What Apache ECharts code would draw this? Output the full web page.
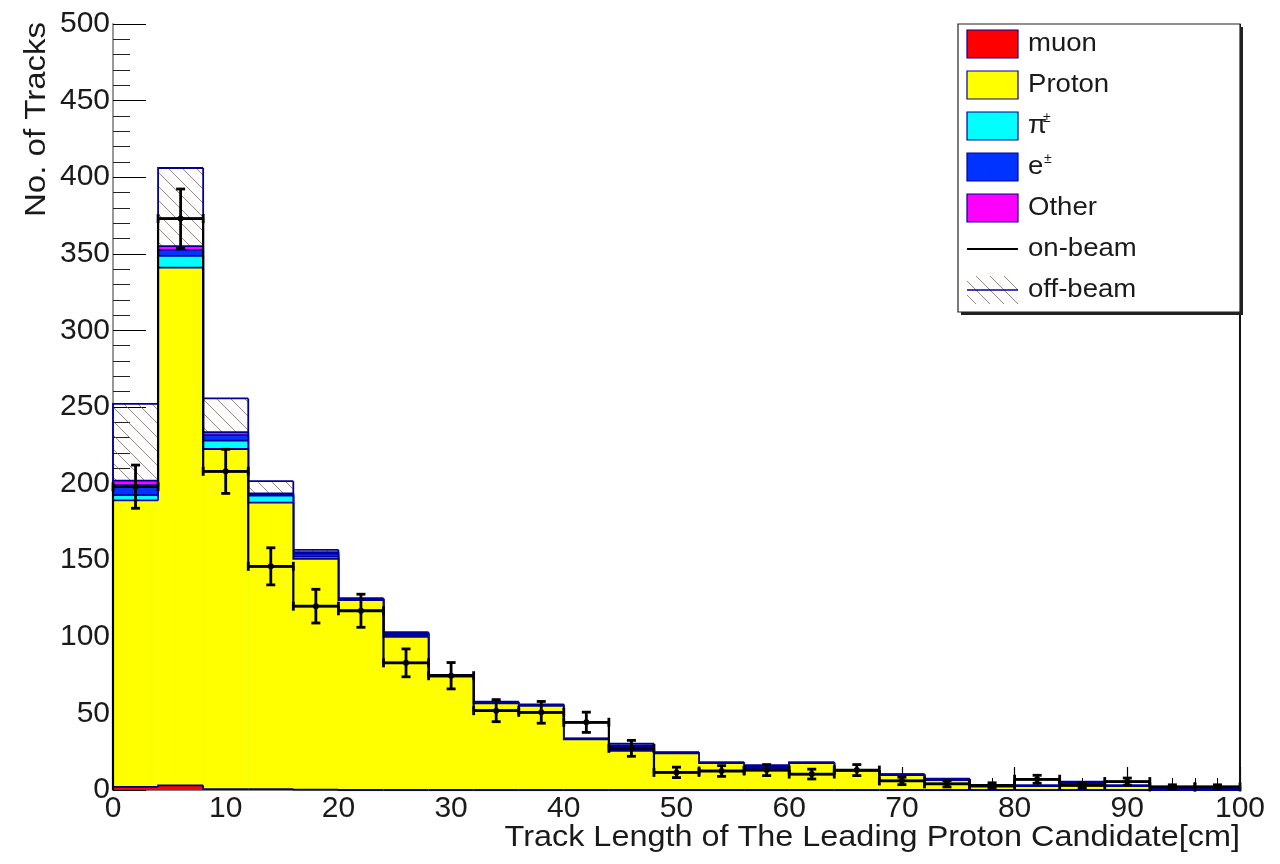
<!DOCTYPE html>
<html>
<head>
<meta charset="utf-8">
<script src="https://cdn.jsdelivr.net/npm/echarts@6/dist/echarts.min.js"></script>
<style>html,body{margin:0;padding:0;background:#fff}#chart{width:1280px;height:864px}</style>
</head>
<body>
<div id="chart"></div>
<script>
// ---- data ----
const binEdges = [0,4,8,12,16,20,24,28,32,36,40,44,48,52,56,60,64,68,72,76,80,84,88,92,96,100];
const muon     = [2, 3, 0.6, 0.6, 0.3, 0, 0, 0, 0, 0, 0, 0, 0, 0, 0, 0, 0, 0, 0, 0, 0, 0, 0, 0, 0];
const proton   = [187, 338, 222, 187, 150.5, 124, 100, 74, 56.5, 55, 33, 25.5, 24, 17.5, 14, 17.5, 12.5, 9.8, 6.5, 2.3, 2.5, 4.5, 2.5, 0.3, 0.3];
const pion     = [3.5, 7.6, 5.5, 4.5, 1.5, 0.3, 0.8, 0.25, 0.3, 0.2, 0.2, 1.2, 0.2, 0.1, 0.6, 0.1, 0.1, 0.1, 0.2, 0.1, 0.1, 0.3, 0.1, 0.1, 0.05];
const electron = [6.5, 3.9, 3.5, 1, 2, 0.3, 1, 0.25, 0.3, 0.2, 0.2, 1.5, 0.2, 0.2, 0.7, 0.2, 0.2, 0.2, 0.3, 0.2, 0.2, 0.3, 0.2, 0.1, 0.05];
const other    = [3, 2.5, 2, 0.5, 1, 0.2, 0.5, 0.25, 0.2, 0.2, 0.1, 0.8, 0.1, 0.1, 0.4, 0.1, 0.1, 0.1, 0.2, 0.1, 0.1, 0.2, 0.1, 0.05, 0.05];
const offBeam  = [50, 51, 22, 8, 1.5, 0.4, 0.7, 0.25, 0.3, 0.2, 0.2, 1.2, 0.1, 0.1, 0.6, 0.1, 0.1, 0.1, 0.2, 0.1, 0.1, 0.2, 0.1, 0.1, 0.05];
const onBeam    = [198, 373, 208, 146, 120, 117, 83, 74.6, 51.8, 50.7, 44.2, 27.2, 11.5, 12.4, 13, 10.4, 13, 5.9, 4, 3, 7, 3, 5.5, 2, 2];
const onBeamErr = [14.1, 19.3, 14.4, 12.1, 11, 10.8, 9.1, 8.6, 7.2, 7.1, 6.6, 5.2, 3.4, 3.5, 3.6, 3.2, 3.6, 2.4, 2, 1.7, 2.6, 1.7, 2.3, 1.4, 1.4];
const legendLabels = ['muon', 'Proton', 'π', 'e', 'Other', 'on-beam', 'off-beam'];
const xTitle = 'Track Length of The Leading Proton Candidate[cm]';
const yTitle = 'No. of Tracks';

// ---- styles ----
const NAVY = '#000099';
const FONT = '"Liberation Sans", Arial, Helvetica, sans-serif';
const TXT = '#1a1a1a';
const COLORS = { muon: '#ff0000', proton: '#ffff00', pion: '#00ffff', electron: '#0033ff', other: '#ff00ff' };

function hatchCanvas() {
  const s = 14;
  const c = document.createElement('canvas');
  c.width = s; c.height = s;
  const g = c.getContext('2d');
  g.strokeStyle = 'rgba(125,95,85,0.75)';
  g.lineWidth = 1;
  g.beginPath();
  g.moveTo(0, 0); g.lineTo(s, s);
  g.moveTo(-s / 2, s / 2); g.lineTo(s / 2, s * 1.5);
  g.moveTo(s / 2, -s / 2); g.lineTo(s * 1.5, s / 2);
  g.stroke();
  return c;
}
const HATCH = { image: hatchCanvas(), repeat: 'repeat' };

const n = proton.length;
const layers = [muon, proton, pion, electron, other, offBeam];
const cum = [];
let run = new Array(n).fill(0);
layers.forEach(l => { run = run.map((r, i) => r + l[i]); cum.push(run.slice()); });

function layerSeries(name, k, fill) {
  const data = cum[k].map((top, i) => [binEdges[i], binEdges[i + 1], top, i > 0 ? cum[k][i - 1] : 0, i === n - 1 ? 1 : 0]);
  return {
    type: 'custom', name, data,
    encode: { x: [0, 1], y: [2, 3] },
    renderItem(params, api) {
      const lo = api.value(0), hi = api.value(1), top = api.value(2), prev = api.value(3), last = api.value(4);
      const pBase = api.coord([lo, 0]);
      const pTopR = api.coord([hi, top]);
      const pTopL = api.coord([lo, top]);
      const pPrev = api.coord([lo, prev]);
      const children = [{
        type: 'rect',
        shape: { x: pBase[0], y: pTopR[1], width: pTopR[0] - pBase[0] + (last ? 0 : 0.6), height: pBase[1] - pTopR[1] },
        style: { fill: fill, stroke: null }
      }];
      const pts = [pPrev, pTopL, pTopR];
      if (last) pts.push(api.coord([hi, 0]));
      children.push({ type: 'polyline', shape: { points: pts }, style: { stroke: NAVY, lineWidth: 1.8, fill: null } });
      return { type: 'group', children };
    }
  };
}

const onData = onBeam.map((v, i) => [binEdges[i], binEdges[i + 1], v, i > 0 ? onBeam[i - 1] : 0, onBeamErr[i], i === n - 1 ? 1 : 0]);

const onStep = {
  type: 'custom', name: 'on-beam', data: onData,
  encode: { x: [0, 1], y: 2 },
  renderItem(params, api) {
    const lo = api.value(0), hi = api.value(1), v = api.value(2), prev = api.value(3), last = api.value(5);
    const pts = [api.coord([lo, prev]), api.coord([lo, v]), api.coord([hi, v])];
    if (last) pts.push(api.coord([hi, 0]));
    return { type: 'polyline', shape: { points: pts }, style: { stroke: '#000', lineWidth: 2.2, fill: null } };
  }
};

const onErr = {
  type: 'custom', name: 'on-beam errors', data: onData,
  encode: { x: [0, 1], y: 2 },
  renderItem(params, api) {
    const lo = api.value(0), hi = api.value(1), v = api.value(2), e = api.value(4);
    const mid = (lo + hi) / 2;
    const c = api.coord([mid, v]);
    const t = api.coord([mid, v + e]);
    const b = api.coord([mid, Math.max(0, v - e)]);
    const l = api.coord([lo, v]);
    const r = api.coord([hi, v]);
    const cap = 4.5;
    const st = { stroke: '#000', lineWidth: 2.8, fill: null };
    const line = (x1, y1, x2, y2) => ({ type: 'line', shape: { x1, y1, x2, y2 }, style: st });
    return {
      type: 'group',
      children: [
        line(c[0], t[1], c[0], b[1]),
        line(l[0], c[1], r[0], c[1]),
        line(c[0] - cap, t[1], c[0] + cap, t[1]),
        line(c[0] - cap, b[1], c[0] + cap, b[1]),
        line(l[0], c[1] - cap, l[0], c[1] + cap),
        line(r[0], c[1] - cap, r[0], c[1] + cap),
        { type: 'circle', shape: { cx: c[0], cy: c[1], r: 3 }, style: { fill: '#000' } }
      ]
    };
  }
};

// ---- legend (graphic) ----
const LX = 958, LY = 24, LW = 282, LH = 288;
const rowY = [44, 85, 126, 167, 208, 249, 290];
const swX = 967, swW = 51, swH = 28, txtX = 1028;
const swFills = [COLORS.muon, COLORS.proton, COLORS.pion, COLORS.electron, COLORS.other];
const legendEls = [
  { type: 'rect', shape: { x: LX + 3, y: LY + 3, width: LW, height: LH }, style: { fill: '#222' }, z: 100 },
  { type: 'rect', shape: { x: LX, y: LY, width: LW, height: LH }, style: { fill: '#fff', stroke: '#222', lineWidth: 1.2 }, z: 101 }
];
swFills.forEach((f, i) => {
  legendEls.push({ type: 'rect', shape: { x: swX, y: rowY[i] - swH / 2, width: swW, height: swH }, style: { fill: f, stroke: NAVY, lineWidth: 1.2 }, z: 102 });
});
legendEls.push({ type: 'line', shape: { x1: swX, y1: rowY[5], x2: swX + swW, y2: rowY[5] }, style: { stroke: '#000', lineWidth: 2 }, z: 102 });
legendEls.push({ type: 'rect', shape: { x: swX, y: rowY[6] - swH / 2, width: swW, height: swH }, style: { fill: HATCH }, z: 102 });
legendEls.push({ type: 'line', shape: { x1: swX, y1: rowY[6], x2: swX + swW, y2: rowY[6] }, style: { stroke: NAVY, lineWidth: 1.5 }, z: 103 });
legendLabels.forEach((t, i) => {
  legendEls.push({ type: 'text', x: txtX, y: rowY[i], scaleX: 1.06, style: { text: t, font: '26px ' + FONT, fill: TXT, textVerticalAlign: 'middle' }, z: 103 });
});
// superscript ± for π and e
legendEls.push({ type: 'text', x: txtX + 15, y: rowY[2] - 8, style: { text: '±', font: '14px ' + FONT, fill: TXT, textVerticalAlign: 'middle' }, z: 103 });
legendEls.push({ type: 'text', x: txtX + 16, y: rowY[3] - 8, style: { text: '±', font: '14px ' + FONT, fill: TXT, textVerticalAlign: 'middle' }, z: 103 });

const titleEls = [
  { type: 'text', x: 37, y: 22, rotation: Math.PI / 2, scaleX: 1.1, style: { text: yTitle, font: '30px ' + FONT, fill: TXT, textAlign: 'right', textVerticalAlign: 'middle' }, z: 50 },
  { type: 'text', x: 1240, y: 838, scaleX: 1.08, style: { text: xTitle, font: '30px ' + FONT, fill: TXT, textAlign: 'right', textVerticalAlign: 'middle' }, z: 50 },
  { type: 'line', shape: { x1: 1240, y1: 24, x2: 1240, y2: 790 }, style: { stroke: '#111', lineWidth: 2 }, z: 50 }
];

const chart = echarts.init(document.getElementById('chart'), null, { renderer: 'canvas' });
chart.setOption({
  animation: false,
  backgroundColor: '#fff',
  textStyle: { fontFamily: FONT },
  grid: { left: 113, right: 40, top: 24, bottom: 74, containLabel: false, outerBoundsMode: 'none' },
  xAxis: {
    type: 'value', min: 0, max: 100, interval: 10,
    axisLine: { show: true, lineStyle: { color: '#555', width: 1.5 } },
    axisTick: { show: true, inside: true, length: 23, lineStyle: { color: '#000', width: 1.2 } },
    minorTick: { show: true, splitNumber: 5, length: 12, lineStyle: { color: '#000', width: 1 } },
    splitLine: { show: false },
    axisLabel: { fontSize: 30, color: TXT, margin: 4, fontFamily: FONT }
  },
  yAxis: {
    type: 'value', min: 0, max: 500, interval: 50,
    axisLine: { show: true, lineStyle: { color: '#999', width: 2 } },
    axisTick: { show: true, inside: true, length: 33, lineStyle: { color: '#000', width: 1.2 } },
    minorTick: { show: true, splitNumber: 5, length: 17, lineStyle: { color: '#222', width: 1 } },
    splitLine: { show: false },
    axisLabel: { fontSize: 30, color: TXT, margin: 3, fontFamily: FONT }
  },
  series: [
    layerSeries('off-beam', 5, HATCH),
    layerSeries('Other', 4, COLORS.other),
    layerSeries('e±', 3, COLORS.electron),
    layerSeries('π±', 2, COLORS.pion),
    layerSeries('Proton', 1, COLORS.proton),
    layerSeries('muon', 0, COLORS.muon),
    onStep,
    onErr
  ],
  graphic: titleEls.concat(legendEls)
});
</script>
</body>
</html>
